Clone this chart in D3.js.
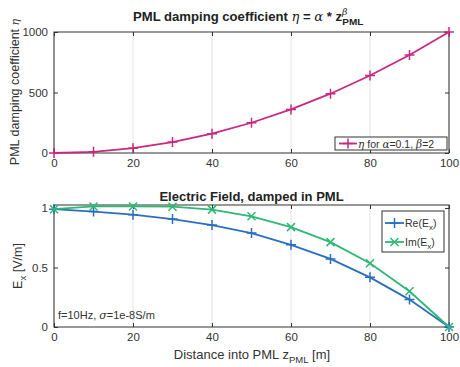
<!DOCTYPE html>
<html><head><meta charset="utf-8">
<script src="https://cdn.jsdelivr.net/npm/d3@7"></script>
<style>body{margin:0;background:#fff}text{font-family:"Liberation Sans",Arial,sans-serif}</style>
</head><body><svg id="c" width="460" height="367"></svg>
<script>
const zPML = [0,10,20,30,40,50,60,70,80,90,100];
const eta = [0,10,40,90,160,250,360,490,640,810,1000];
const reEx = [0.99,0.97,0.944,0.907,0.856,0.789,0.69,0.572,0.417,0.23,0];
const imEx = [0.99,1.013,1.013,1.011,0.986,0.93,0.839,0.713,0.535,0.30,0];
const xTicks = [0,20,40,60,80,100];
const etaTicks = [0,500,1000];
const exTicks = [0,0.5,1];

const svg = d3.select("#c");
const L = 54, R = 449;
const magenta = "#c9287f", blue = "#2a6fbf", green = "#2eb873";
const GREEK = {"font-family":"DejaVu Serif","font-style":"italic","font-weight":"normal"};

function panel(y0, y1, ydom, yticks, yfmt) {
  const x = d3.scaleLinear().domain([0,100]).range([L,R]);
  const y = d3.scaleLinear().domain(ydom).range([y1,y0]);
  const g = svg.append("g");
  g.selectAll(".gr").data(xTicks).join("line")
    .attr("x1",d=>x(d)).attr("x2",d=>x(d)).attr("y1",y0).attr("y2",y1)
    .attr("stroke","#e3e3e3").attr("stroke-width",1);
  const ax = g.append("g").attr("transform",`translate(0,${y1})`)
    .call(d3.axisBottom(x).tickValues(xTicks).tickSize(-4).tickPadding(6));
  const axt = g.append("g").attr("transform",`translate(0,${y0})`)
    .call(d3.axisTop(x).tickValues(xTicks).tickSize(-4).tickFormat(""));
  const ay = g.append("g").attr("transform",`translate(${L},0)`)
    .call(d3.axisLeft(y).tickValues(yticks).tickSize(-4).tickPadding(6).tickFormat(yfmt));
  const ayr = g.append("g").attr("transform",`translate(${R},0)`)
    .call(d3.axisRight(y).tickValues(yticks).tickSize(-4).tickFormat(""));
  [ax,axt,ay,ayr].forEach(a=>{
    a.select(".domain").remove();
    a.selectAll("line").attr("stroke","#333");
    a.selectAll("text").attr("font-size",11.5).attr("fill","#333");
  });
  g.append("rect").attr("x",L).attr("y",y0).attr("width",R-L).attr("height",y1-y0)
    .attr("fill","none").attr("stroke","#333").attr("stroke-width",1);
  return {x,y,g};
}

function plus(g, cx, cy, col, s) {
  g.append("path").attr("d",`M${cx-s},${cy}H${cx+s}M${cx},${cy-s}V${cy+s}`)
    .attr("stroke",col).attr("stroke-width",1.5).attr("fill","none");
}
function cross(g, cx, cy, col, s) {
  g.append("path").attr("d",`M${cx-s},${cy-s}L${cx+s},${cy+s}M${cx-s},${cy+s}L${cx+s},${cy-s}`)
    .attr("stroke",col).attr("stroke-width",1.5).attr("fill","none");
}
function series(p, xs, ys, col, mk) {
  const line = d3.line().x(d=>p.x(d[0])).y(d=>p.y(d[1]));
  const data = xs.map((v,i)=>[v,ys[i]]);
  p.g.append("path").datum(data).attr("d",line).attr("fill","none")
    .attr("stroke",col).attr("stroke-width",1.8);
  data.forEach(d=>mk(p.g,p.x(d[0]),p.y(d[1]),col, mk===plus?5:4));
}
function rich(parent, cx, y, parts, base, rotate, fitW) {
  const g = parent.append("g");
  const t = g.append("text").attr("x",0).attr("y",0);
  Object.entries(base).forEach(([k,v])=>t.attr(k,v));
  parts.forEach(([s,a])=>{
    const ts = t.append("tspan").text(s);
    Object.entries(a||{}).forEach(([k,v])=>ts.attr(k,v));
  });
  const w = t.node().getComputedTextLength();
  t.attr("x",-w/2);
  const sx = fitW ? fitW / w : 1;
  g.attr("transform", rotate ? `translate(${cx},${y}) rotate(-90)` : `translate(${cx},${y}) scale(${sx},1)`);
  return g;
}

// Top panel
const p1 = panel(32, 153, [0,1000], etaTicks, d3.format("d"));
series(p1, zPML, eta, magenta, plus);
rich(svg, 251, 21, [
  ["PML damping coefficient "],
  ["η", GREEK],
  [" = "],
  ["α", GREEK],
  [" * z"],
  ["β", Object.assign({"font-size":9,dy:-6}, GREEK)],
  ["PML", {"font-size":9.5,dx:-5,dy:10}]
], {"font-size":12.5,"font-weight":"bold",fill:"#222"}, false, 236);
rich(svg, 19, 92, [
  ["PML damping coefficient "],
  ["η", Object.assign({"font-size":11}, GREEK)]
], {"font-size":12.5,fill:"#333"}, true);
const lg1 = svg.append("g");
lg1.append("rect").attr("x",335).attr("y",137).attr("width",112).attr("height",13)
  .attr("fill","#fff").attr("stroke","#333").attr("stroke-width",1);
lg1.append("line").attr("x1",339).attr("x2",357).attr("y1",143.5).attr("y2",143.5).attr("stroke",magenta).attr("stroke-width",1.8);
plus(lg1,348,143.5,magenta,5);
const lt1 = lg1.append("text").attr("x",358).attr("y",147.5).attr("font-size",10.5).attr("fill","#333");
lt1.append("tspan").attr("font-family","DejaVu Serif").attr("font-style","italic").text("η");
lt1.append("tspan").text(" for ");
lt1.append("tspan").attr("font-family","DejaVu Serif").attr("font-style","italic").text("α");
lt1.append("tspan").text("=0.1, ");
lt1.append("tspan").attr("font-family","DejaVu Serif").attr("font-style","italic").text("β");
lt1.append("tspan").text("=2");

// Bottom panel
const p2 = panel(205, 327, [0,1.025], exTicks, d=>d===0.5?"0.5":d3.format("d")(d));
series(p2, zPML, reEx, blue, plus);
series(p2, zPML, imEx, green, cross);
rich(svg, 251.5, 201, [["Electric Field, damped in PML"]],
  {"font-size":13,"font-weight":"bold",fill:"#222"});
rich(svg, 22, 266, [["E"],["x",{"font-size":9.5,dy:4}],[" [V/m]",{dy:-4}]],
  {"font-size":12.5,fill:"#333"}, true);
rich(svg, 252, 359, [["Distance into PML z"],["PML",{"font-size":9.5,dy:4}],[" [m]",{dy:-4}]],
  {"font-size":13,fill:"#333"});
const an = svg.append("text").attr("x",58).attr("y",319).attr("font-size",11).attr("fill","#333");
an.append("tspan").text("f=10Hz, ");
an.append("tspan").attr("font-family","DejaVu Serif").attr("font-style","italic").text("σ");
an.append("tspan").text("=1e-8S/m");
const lg2 = svg.append("g");
lg2.append("rect").attr("x",382).attr("y",211).attr("width",62).attr("height",41)
  .attr("fill","#fff").attr("stroke","#333").attr("stroke-width",1);
[[blue,plus,"Re",223],[green,cross,"Im",242]].forEach(([c,mk,lab,yy])=>{
  lg2.append("line").attr("x1",385).attr("x2",404).attr("y1",yy).attr("y2",yy).attr("stroke",c).attr("stroke-width",1.8);
  mk(lg2,394.5,yy,c,mk===plus?5:4);
  const t = lg2.append("text").attr("x",405).attr("y",yy+3.5).attr("font-size",10.5).attr("fill","#333");
  t.append("tspan").text(lab+"(E");
  t.append("tspan").attr("font-size",8).attr("dy",3).text("x");
  t.append("tspan").attr("dy",-3).text(")");
});
</script></body></html>
